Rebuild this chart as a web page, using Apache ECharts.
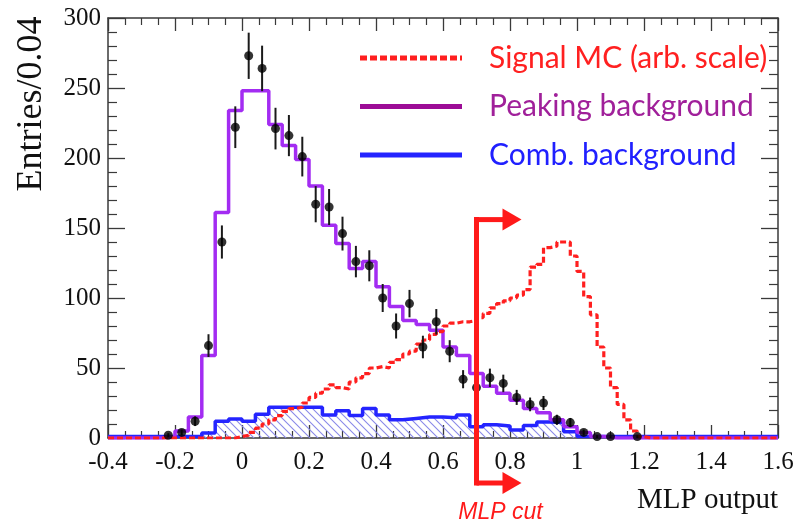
<!DOCTYPE html>
<html>
<head>
<meta charset="utf-8">
<script src="https://cdn.jsdelivr.net/npm/echarts@6/dist/echarts.min.js"></script>
<style>
  html, body { margin: 0; padding: 0; background: #fff; }
  #chart { width: 809px; height: 527px; }
</style>
</head>
<body>
<div id="chart"></div>
<script>
// ---- Binning of the background histograms (50 bins of 0.04 from -0.4 to 1.6)
const binStart = -0.4;
const binWidth = 0.04;

// Peaking background (entries per bin)
const peaking = [0, 0, 0, 0, 1, 5, 15, 59, 161, 234,
  248, 248, 224, 209, 199, 180, 152, 139, 121, 126,
  108, 94, 84, 81, 77, 65, 59, 46, 37, 32,
  27, 21, 18, 13, 8, 4, 1, 0, 0, 0,
  0, 0, 0, 0, 0, 0, 0, 0, 0, 0];

// Combinatorial background (entries per bin)
const comb = [1, 1, 1, 1, 1, 1, 1, 3.5, 12, 13.5,
  12, 17, 22, 22, 22, 22, 16.5, 19.5, 16, 21,
  16.5, 13, 14, 15, 15, 14.5, 16.5, 8, 9.5, 8.5,
  5.7, 9, 11.5, 11, 4.5, 1, 1, 1, 1, 1,
  1, 1, 1, 1, 1, 1, 1, 1, 1, 1];

// Signal MC, arbitrary scale, finer bins of 0.02 starting at -0.04
const sigStart = -0.04;
const sigWidth = 0.02;
const signal = [0, 1, 2, 4, 7, 10, 13, 16, 19, 21,
  22, 25, 29, 32, 35, 38, 36, 35, 40, 43,
  46, 50, 51, 50, 54, 56, 60, 62, 67, 70,
  74, 76, 80, 82, 83, 83, 84, 86, 89, 93,
  96, 98, 100, 102, 106, 122, 124, 136, 137, 140,
  140, 130, 119, 101, 88, 65, 50, 36, 24, 13,
  5, 1, 0];

// Data: bin centres and entries
const dataX = [-0.22, -0.18, -0.14, -0.10, -0.06, -0.02, 0.02, 0.06, 0.10, 0.14,
  0.18, 0.22, 0.26, 0.30, 0.34, 0.38, 0.42, 0.46, 0.50, 0.54,
  0.58, 0.62, 0.66, 0.70, 0.74, 0.78, 0.82, 0.86, 0.90, 0.94,
  0.98, 1.02, 1.06, 1.10, 1.18];
const dataY = [2, 4, 12, 66, 140, 222, 273, 264, 221, 216,
  201, 167, 165, 146, 126, 123, 100, 80, 96, 65,
  83, 62, 42, 36, 43, 39, 29, 24, 25, 13,
  11, 4, 1, 1, 1];

// Axis ranges
const xMin = -0.4, xMax = 1.6, xStep = 0.2;
const yMin = 0, yMax = 300, yStep = 50;

// Selection cut on the MLP output and the height of its marker
const cutValue = 0.7;
const cutMarkerTop = 156;

const legendItems = [
  { name: 'Signal MC (arb. scale)', color: '#ff1f1f', text: '#ff2020', dash: [7, 3] },
  { name: 'Peaking background', color: '#9c0c96', text: '#a0209a', dash: null },
  { name: 'Comb. background', color: '#2424ff', text: '#2020ff', dash: null }
];

// Step outline of a histogram: one point per lower bin edge plus the last upper edge
function stepPoints(start, width, values, lo, hi) {
  const pts = [];
  const nLeft = Math.round((start - lo) / width);
  for (let i = 0; i < nLeft; i++) pts.push([lo + i * width, 0]);
  values.forEach((v, i) => pts.push([start + i * width, v]));
  const end = start + values.length * width;
  const nRight = Math.round((hi - end) / width);
  for (let i = 0; i < nRight; i++) pts.push([end + i * width, 0]);
  const last = pts[pts.length - 1];
  pts.push([hi, last[1]]);
  return pts.map(p => [Math.round(p[0] * 1000) / 1000, p[1]]);
}

// Diagonal hatching used under the combinatorial background
function hatchPattern() {
  const c = document.createElement('canvas');
  const s = 8;
  c.width = s; c.height = s;
  const g = c.getContext('2d');
  g.strokeStyle = '#8a8ae8';
  g.lineWidth = 1.1;
  g.beginPath();
  g.moveTo(-1, -1); g.lineTo(s + 1, s + 1);
  g.moveTo(-1, s - 1); g.lineTo(1, s + 1);
  g.moveTo(s - 1, -1); g.lineTo(s + 1, 1);
  g.stroke();
  return c;
}

const chart = echarts.init(document.getElementById('chart'), null, { renderer: 'canvas' });

const serif = 'Liberation Serif, Times New Roman, serif';
const frameColor = '#3a3a3a';

function xAxisDef(pos, showLabels) {
  return {
    type: 'value', position: pos, min: xMin, max: xMax, interval: xStep,
    axisLine: { show: true, onZero: false, lineStyle: { color: frameColor, width: 1.5 } },
    axisTick: { show: true, inside: true, length: 13, lineStyle: { color: frameColor, width: 1.3 } },
    minorTick: { show: true, splitNumber: 4, length: 7, lineStyle: { color: frameColor, width: 1.2 } },
    axisLabel: { show: showLabels, fontFamily: serif, fontSize: 25, color: '#111', margin: 12 },
    splitLine: { show: false }
  };
}
function yAxisDef(pos, showLabels) {
  return {
    type: 'value', position: pos, min: yMin, max: yMax, interval: yStep,
    axisLine: { show: true, onZero: false, lineStyle: { color: frameColor, width: 1.5 } },
    axisTick: { show: true, inside: true, length: 17, lineStyle: { color: frameColor, width: 1.3 } },
    minorTick: { show: true, splitNumber: 5, length: 9, lineStyle: { color: frameColor, width: 1.2 } },
    axisLabel: { show: showLabels, fontFamily: serif, fontSize: 25, color: '#111', margin: 7 },
    splitLine: { show: false }
  };
}

const dataPoints = dataX.map((x, i) => [x, dataY[i]]);

chart.setOption({
  animation: false,
  backgroundColor: '#ffffff',
  grid: { left: 108, right: 31, top: 18, bottom: 89, containLabel: false },
  xAxis: [xAxisDef('bottom', true), xAxisDef('top', false)],
  yAxis: [yAxisDef('left', true), yAxisDef('right', false)],
  series: [
    {
      name: 'Comb. background', type: 'line', step: 'end', z: 2,
      data: stepPoints(binStart, binWidth, comb, xMin, xMax),
      symbol: 'none', lineStyle: { color: '#2424ff', width: 3.5 },
      areaStyle: { color: { image: hatchPattern(), repeat: 'repeat' }, opacity: 1 }
    },
    {
      name: 'Peaking background', type: 'line', step: 'end', z: 3,
      data: stepPoints(binStart, binWidth, peaking, xMin, xMax),
      symbol: 'none', lineStyle: { color: '#a32cf2', width: 3.5 }
    },
    {
      name: 'Signal MC (arb. scale)', type: 'line', step: 'end', z: 4,
      data: stepPoints(sigStart, sigWidth, signal, xMin, xMax),
      symbol: 'none', lineStyle: { color: '#ff1f1f', width: 3.2, type: [6, 3] }
    },
    {
      name: 'Data errors', type: 'custom', z: 5,
      renderItem: function (params, api) {
        const x = api.value(0), y = api.value(1), e = Math.sqrt(y);
        const p1 = api.coord([x, y + e]);
        const p2 = api.coord([x, Math.max(y - e, 0)]);
        return { type: 'line', shape: { x1: p1[0], y1: p1[1], x2: p2[0], y2: p2[1] },
                 style: { stroke: '#1a1a1a', lineWidth: 2 } };
      },
      data: dataPoints
    },
    {
      name: 'Data', type: 'scatter', z: 6,
      data: dataPoints, symbol: 'circle', symbolSize: 9,
      itemStyle: { color: '#000' }
    }
  ]
});

// Legend, axis titles and the cut marker
const gfx = [];
const legTop = 58, legGap = 48.5, lineX0 = 360, lineX1 = 462, textX = 489;
legendItems.forEach((it, i) => {
  const y = legTop + i * legGap;
  gfx.push({
    type: 'line', z: 50,
    shape: { x1: lineX0, y1: y, x2: lineX1, y2: y },
    style: { stroke: it.color, lineWidth: 5, lineDash: it.dash }
  });
  gfx.push({
    type: 'text', z: 50, x: textX, y: y,
    style: { text: it.name, fill: it.text, font: '30px Lato, "Open Sans", sans-serif',
             textAlign: 'left', textVerticalAlign: 'middle' }
  });
});

gfx.push({
  type: 'text', z: 50, x: 32, y: 104, rotation: Math.PI / 2,
  style: { text: 'Entries/0.04', fill: '#111', font: '36px ' + serif,
           textAlign: 'center', textVerticalAlign: 'middle' }
});
gfx.push({
  type: 'text', z: 50, x: 778, y: 500,
  style: { text: 'MLP output', fill: '#111', font: '29px ' + serif,
           textAlign: 'right', textVerticalAlign: 'middle' }
});

const cx = chart.convertToPixel({ xAxisIndex: 0 }, cutValue);
const cyTop = chart.convertToPixel({ yAxisIndex: 0 }, cutMarkerTop);
const cyAxis = chart.convertToPixel({ yAxisIndex: 0 }, 0);
const cyBottom = cyAxis + 45;
const red = '#ff1a1a';
gfx.push({
  type: 'line', z: 60,
  shape: { x1: cx, y1: cyTop - 2.5, x2: cx, y2: cyBottom + 2.5 },
  style: { stroke: red, lineWidth: 5 }
});
[cyTop, cyBottom].forEach(yy => {
  gfx.push({
    type: 'line', z: 60,
    shape: { x1: cx, y1: yy, x2: cx + 28, y2: yy },
    style: { stroke: red, lineWidth: 5 }
  });
  gfx.push({
    type: 'polygon', z: 60,
    shape: { points: [[cx + 26, yy - 11], [cx + 26, yy + 11], [cx + 45, yy]] },
    style: { fill: red }
  });
});
gfx.push({
  type: 'text', z: 60, x: cx + 24, y: cyBottom + 30,
  style: { text: 'MLP cut', fill: red, font: 'italic 23px "Liberation Sans", Arial, sans-serif',
           textAlign: 'center', textVerticalAlign: 'middle' }
});

chart.setOption({ graphic: gfx });
</script>
</body>
</html>
